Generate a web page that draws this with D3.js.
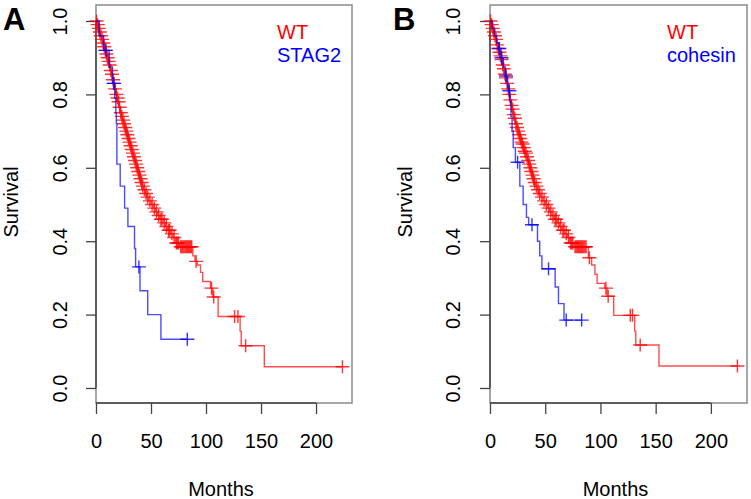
<!DOCTYPE html>
<html>
<head>
<meta charset="utf-8">
<script src="https://cdn.jsdelivr.net/npm/d3@7"></script>
<style>
  html, body { margin: 0; padding: 0; background: #fff; }
  svg { display: block; }
  text { font-family: "Liberation Sans", Arial, Helvetica, sans-serif; fill: #000; }
</style>
</head>
<body>
<svg id="chart" width="751" height="499"></svg>
<script>
// ---------- data ----------
const monthTicks = [0, 50, 100, 150, 200];
const survTicks = [0, 0.2, 0.4, 0.6, 0.8, 1.0];
const panelLabels = ["A", "B"];
const legendA = ["WT", "STAG2"];
const legendB = ["WT", "cohesin"];

// Kaplan-Meier steps: [month, survival after the drop]
const wtA_steps = [[0,1.0],[1,0.99],[2,0.98],[3,0.97],[4,0.96],[5,0.95],[6,0.94],[7,0.93],[8,0.92],[9,0.91],
  [10,0.90],[11,0.89],[12,0.88],[13,0.865],[14,0.855],[15,0.84],[16,0.83],[17,0.815],[18,0.80],[19,0.79],
  [20,0.78],[21,0.765],[22,0.75],[23,0.74],[24,0.73],[25,0.72],[26,0.71],[27,0.70],[28,0.69],[29,0.68],
  [30,0.67],[31,0.66],[32,0.65],[33,0.64],[34,0.63],[35,0.62],[36,0.61],[37,0.60],[38,0.59],[39,0.58],
  [40,0.57],[41,0.56],[42,0.55],[43,0.54],[45,0.53],[46,0.52],[48,0.51],[50,0.50],[52,0.49],[54,0.48],
  [56,0.47],[58,0.46],[61,0.45],[63,0.44],[65,0.43],[68,0.42],[70,0.41],[72,0.395],[76,0.385],[88,0.36],
  [90,0.345],[92,0.335],[95,0.315],[97,0.29],[104,0.272],[106,0.248],[111,0.195],[131,0.155],[132,0.115],[153,0.058]];
const wtA_end = 224;
const wtA_censor = [0.5,1.5,2.5,3.5,4.5,5.5,6.5,7.5,8.5,9.5,10.5,11.5,12.5,13.5,14.5,15.5,16.5,17.5,18.5,19.5,
  20.5,21.5,22.5,23.5,24.5,25.5,26.5,27.5,28.5,29.5,30.5,31.5,32.5,33.5,34.5,35.5,36.5,37.5,38.5,39.5,
  40.5,41.5,42.5,44,45.5,47,49,51,53,55,57,59,60,62,64,66,67,69,71,73,74,75,77,78,79,80,81,82,83,84,
  85,86,87,91,105,107,126,129,136,224];

const stag2_steps = [[0,1.0],[3,0.96],[7,0.92],[12,0.875],[15,0.83],[17,0.79],[18,0.75],[18.5,0.72],[19,0.61],
  [22,0.55],[26,0.49],[29,0.44],[35,0.38],[36,0.33],[40,0.265],[47,0.20],[59,0.133]];
const stag2_end = 83;
const stag2_censor = [9, 16, 39, 83];

const wtB_steps = [[0,1.0],[1,0.99],[2,0.98],[3,0.97],[4,0.96],[5,0.95],[6,0.935],[7,0.925],[8,0.915],[9,0.905],
  [10,0.895],[11,0.88],[12,0.87],[13,0.855],[14,0.845],[15,0.83],[16,0.815],[17,0.80],[18,0.785],[19,0.77],
  [20,0.76],[21,0.745],[22,0.735],[23,0.72],[24,0.71],[25,0.70],[26,0.69],[27,0.68],[28,0.67],[29,0.665],
  [30,0.655],[31,0.645],[32,0.64],[33,0.63],[34,0.62],[35,0.61],[36,0.60],[37,0.59],[38,0.58],[39,0.57],
  [40,0.56],[41,0.55],[43,0.54],[44,0.53],[46,0.52],[48,0.51],[50,0.50],[52,0.49],[54,0.48],[56,0.47],
  [58,0.46],[61,0.45],[63,0.44],[65,0.43],[68,0.42],[70,0.41],[72,0.395],[76,0.385],[89,0.355],[92,0.335],
  [95,0.31],[97,0.285],[104,0.272],[106,0.25],[112,0.198],[131,0.155],[132,0.117],[153,0.06]];
const wtB_end = 224;
const wtB_censor = [0.5,1.5,2.5,3.5,4.5,5.5,6.5,7.5,8.5,9.5,10.5,11.5,12.5,13.5,14.5,15.5,16.5,17.5,18.5,19.5,
  20.5,21.5,22.5,23.5,24.5,25.5,26.5,27.5,28.5,29.5,30.5,31.5,32.5,33.5,34.5,35.5,36.5,37.5,38.5,39.5,
  40.5,42,43.5,45,47,49,51,53,55,57,59,60,62,64,66,67,69,71,73,74,75,77,78,79,80,81,82,83,84,
  85,86,87,90,105,107,127,129,136,224];

const cohesin_steps = [[0,1.0],[2,0.98],[4,0.96],[6,0.94],[8,0.925],[10,0.90],[12,0.875],[14,0.85],[16,0.82],
  [17,0.81],[18,0.78],[19,0.74],[20,0.70],[21,0.655],[23,0.615],[27,0.55],[30,0.50],[33,0.465],[35,0.445],
  [43,0.40],[45,0.36],[47,0.325],[59,0.275],[62,0.23],[67,0.185]];
const cohesin_end = 83;
const cohesin_censor = [8.5, 10.5, 14.5, 17.5, 25, 38, 53, 69, 83];

// ---------- drawing ----------
const svg = d3.select("#chart");
const RED = "#ff0000", BLUE = "#0000ff";

function survAt(steps, t) {
  let v = steps[0][1];
  for (const s of steps) { if (s[0] <= t) v = s[1]; else break; }
  return v;
}

function drawPanel(opt) {
  const x = d3.scaleLinear().domain([0, 232.7]).range([opt.left, opt.right]);
  const y = d3.scaleLinear().domain([-0.0409, 1.0436]).range([403, 5]);
  const g = svg.append("g");

  // box
  g.append("rect")
    .attr("x", opt.left).attr("y", 5)
    .attr("width", opt.right - opt.left).attr("height", 398)
    .attr("fill", "none").attr("stroke", "#8a8a8a").attr("stroke-width", 1.5);

  // y axis
  const ya = g.append("g").attr("transform", `translate(${opt.left},0)`)
    .call(d3.axisLeft(y).tickValues(survTicks).tickSize(10).tickFormat(d3.format(".1f")));
  ya.select(".domain").attr("stroke", "#444").attr("stroke-width", 1.5)
    .attr("d", `M0,${y(0)}V${y(1)}`);
  ya.selectAll(".tick line").attr("stroke", "#444").attr("stroke-width", 1.3);
  ya.selectAll(".tick text")
    .attr("font-size", 20).attr("fill", "#000")
    .attr("font-family", "Liberation Sans, Arial, sans-serif")
    .attr("text-anchor", "middle").attr("dy", null).attr("x", null)
    .attr("transform", `translate(${opt.ylab - opt.left},0) rotate(-90)`);

  // x axis
  const xa = g.append("g").attr("transform", `translate(0,403)`)
    .call(d3.axisBottom(x).tickValues(monthTicks).tickSize(11));
  xa.select(".domain").attr("stroke", "#444").attr("stroke-width", 1.5)
    .attr("d", `M${x(0)},0H${x(200)}`);
  xa.selectAll(".tick line").attr("stroke", "#444").attr("stroke-width", 1.3);
  xa.selectAll(".tick text")
    .attr("font-size", 20).attr("fill", "#000")
    .attr("font-family", "Liberation Sans, Arial, sans-serif")
    .attr("dy", null).attr("y", 45);

  // axis titles
  g.append("text").attr("x", (opt.left + opt.right) / 2 - 3).attr("y", 496)
    .attr("text-anchor", "middle").attr("font-size", 20).text("Months");
  g.append("text")
    .attr("transform", `translate(${opt.survX},202) rotate(-90)`)
    .attr("text-anchor", "middle").attr("font-size", 20).text("Survival");

  // panel letter
  g.append("text").attr("x", opt.letterX).attr("y", 30)
    .attr("font-size", 31).attr("font-weight", "bold").text(opt.letter);

  const line = d3.line().curve(d3.curveStepAfter).x(d => x(d[0])).y(d => y(d[1]));

  function curve(steps, end, censor, color) {
    const pts = steps.concat([[end, steps[steps.length - 1][1]]]);
    g.append("path").attr("d", line(pts)).attr("fill", "none")
      .attr("stroke", color).attr("stroke-width", 1.4).attr("stroke-opacity", 0.7);
    g.append("g").selectAll("path").data(censor).join("path")
      .attr("d", t => {
        const cx = x(t), cy = y(survAt(steps, t));
        return `M${cx - 7},${cy}h14M${cx},${cy - 6.5}v13`;
      })
      .attr("fill", "none").attr("stroke", color).attr("stroke-width", 1.4).attr("stroke-opacity", 0.8);
  }
  curve(opt.wt.steps, opt.wt.end, opt.wt.censor, RED);
  curve(opt.mut.steps, opt.mut.end, opt.mut.censor, BLUE);

  // legend
  g.append("text").attr("x", opt.legX).attr("y", 39).attr("font-size", 20)
    .style("fill", RED).text(opt.legend[0]);
  g.append("text").attr("x", opt.legX).attr("y", 62).attr("font-size", 20)
    .style("fill", BLUE).text(opt.legend[1]);
}

drawPanel({
  left: 96, right: 352, ylab: 67, survX: 18, letterX: 3, letter: panelLabels[0], legX: 277,
  legend: legendA,
  wt: { steps: wtA_steps, end: wtA_end, censor: wtA_censor },
  mut: { steps: stag2_steps, end: stag2_end, censor: stag2_censor }
});
drawPanel({
  left: 490, right: 747, ylab: 460, survX: 412, letterX: 393, letter: panelLabels[1], legX: 667,
  legend: legendB,
  wt: { steps: wtB_steps, end: wtB_end, censor: wtB_censor },
  mut: { steps: cohesin_steps, end: cohesin_end, censor: cohesin_censor }
});
</script>
</body>
</html>
